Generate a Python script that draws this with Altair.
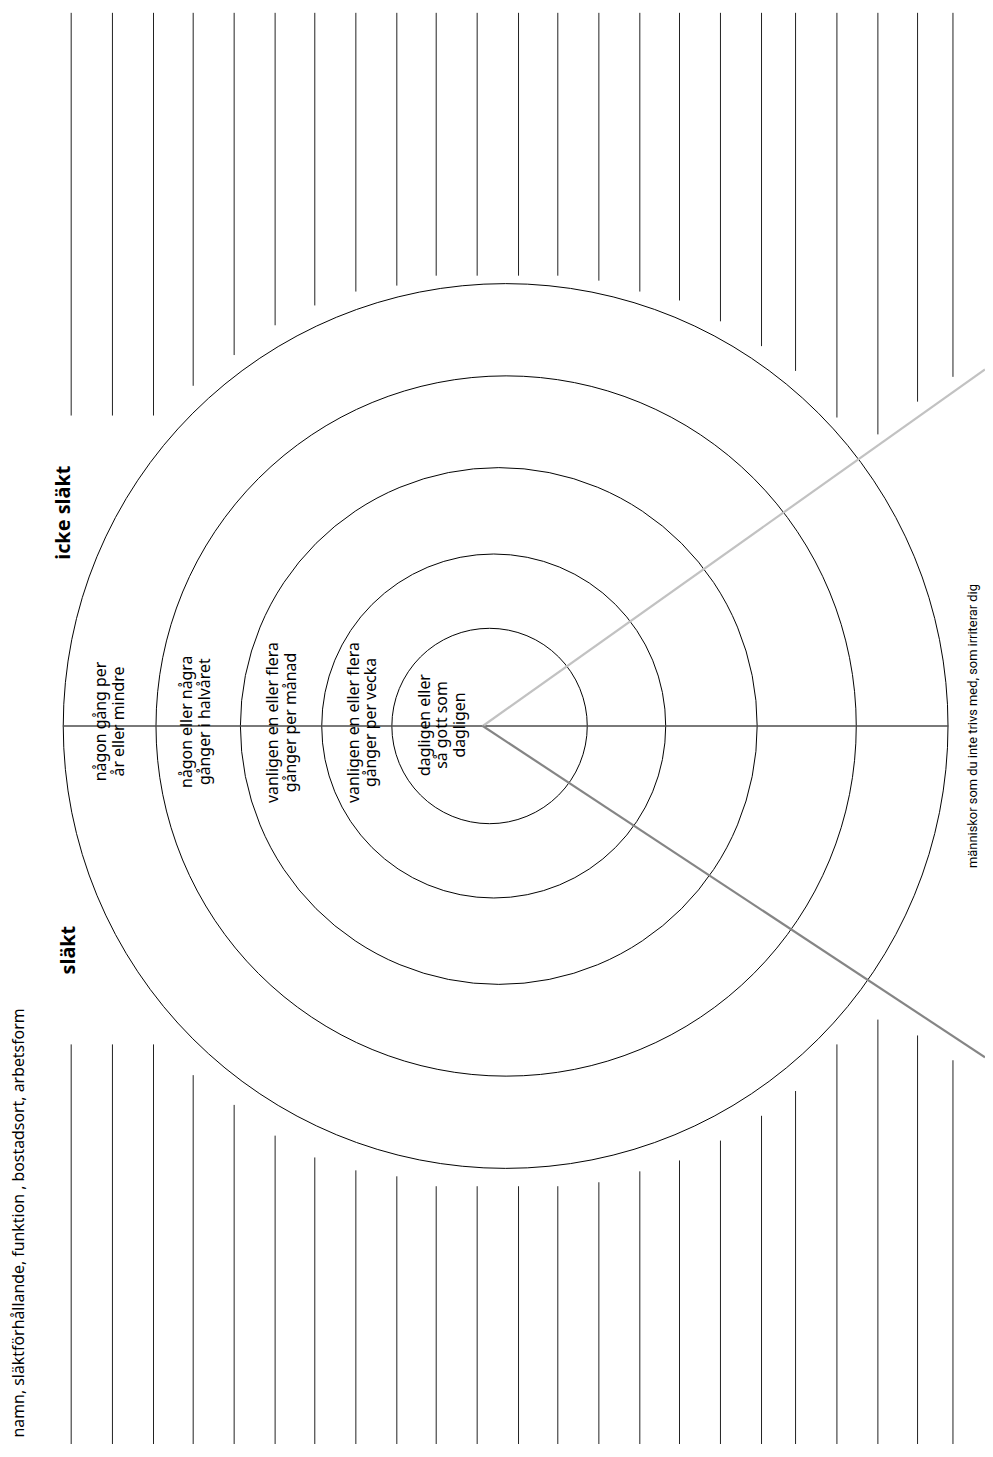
import altair as alt
import pandas as pd

# ---------------- data (page pixel coordinates) ----------
# vertical writing lines (x positions), where the upper line stops and the lower line starts
line_x = [71.7, 113.3, 154.7, 194.7, 236.0, 277.3, 317.3, 358.7, 400.0, 439.7, 481.0,
          522.7, 562.3, 603.7, 645.0, 685.0, 726.3, 767.7, 802.0, 843.7, 885.0, 925.0, 960.7]
top_end = [413, 413, 413, 383, 352, 322, 302, 288, 282, 272, 272,
           272, 272, 277, 288, 297, 318, 343, 368, 415, 432, 399, 374]
bottom_start = [1047, 1047, 1047, 1078, 1108, 1139, 1161, 1174, 1180, 1190, 1190,
                1190, 1190, 1186, 1175, 1164, 1144, 1119, 1094, 1047, 1022, 1038, 1063]
line_top = 7
line_bottom = 1455

# rings (centre x, radius); all share the same centre y
ring_cx = [493.5, 497.7, 502.8, 510.2, 509.7]
ring_r = [98.5, 173.4, 260.5, 353.0, 446.0]
ring_cy = 726

# straight strokes: axis line and the two rays
seg_x = [63.3, 486.7, 486.7]
seg_y = [726, 726, 726]
seg_x2 = [956.0, 993.0, 993.0]
seg_y2 = [726, 366.5, 1060.0]
seg_color = ["#4d4d4d", "#c2c2c2", "#858585"]
seg_width = [1.4, 2.2, 2.2]

# ring labels, one entry per text line
ring_line = ["någon gång per", "år eller mindre",
             "någon eller några", "gånger i halvåret",
             "vanligen en eller flera", "gånger per månad",
             "vanligen en eller flera", "gånger per vecka",
             "dagligen eller", "så gott som", "dagligen"]
ring_line_x = [101.7, 120.0,
               188.3, 206.7,
               275.0, 293.3,
               356.7, 374.0,
               428.3, 446.0, 463.5]
ring_line_y = [721.5, 721.5,
               721.7, 721.7,
               722.5, 722.5,
               722.5, 722.5,
               725.0, 725.0, 725.0]

# headings
head_label = ["icke släkt", "släkt"]
head_x = [65, 69.5]
head_y = [511, 952]

# side notes
note_label = ["namn, släktförhållande, funktion , bostadsort, arbetsform",
              "människor som du inte trivs med, som irriterar dig"]
note_x = [19, 981]
note_y = [1227, 726]
note_size = [16, 13]
note_font = ["Noto Sans", "Roboto"]

# ---------------- chart ----------------
W, H = 985, 1436
xs = alt.Scale(domain=[8, 8 + W], nice=False, zero=False)
ys = alt.Scale(domain=[8, 8 + H], nice=False, zero=False, reverse=True)

lines_df = pd.DataFrame({"x": line_x, "top_end": top_end, "bottom_start": bottom_start,
                         "top": [line_top] * len(line_x), "bottom": [line_bottom] * len(line_x)})

upper = alt.Chart(lines_df).mark_rule(color="#1f1f1f", strokeWidth=1).encode(
    x=alt.X("x:Q", scale=xs, axis=None),
    y=alt.Y("top:Q", scale=ys, axis=None),
    y2="top_end:Q",
)
lower = alt.Chart(lines_df).mark_rule(color="#1f1f1f", strokeWidth=1).encode(
    x=alt.X("x:Q", scale=xs, axis=None),
    y=alt.Y("bottom_start:Q", scale=ys, axis=None),
    y2="bottom:Q",
)

ring_df = pd.DataFrame({"cx": ring_cx, "r": ring_r, "cy": [ring_cy] * len(ring_r)})
ring_df["s"] = (2 * ring_df["r"]) ** 2
rings = alt.Chart(ring_df).mark_point(shape="circle", filled=False, stroke="black",
                                      strokeWidth=1, opacity=1).encode(
    x=alt.X("cx:Q", scale=xs, axis=None),
    y=alt.Y("cy:Q", scale=ys, axis=None),
    size=alt.Size("s:Q", scale=None, legend=None),
)

seg_df = pd.DataFrame({"x": seg_x, "y": seg_y, "x2": seg_x2, "y2": seg_y2,
                       "c": seg_color, "w": seg_width})
segs = alt.Chart(seg_df).mark_rule().encode(
    x=alt.X("x:Q", scale=xs, axis=None),
    y=alt.Y("y:Q", scale=ys, axis=None),
    x2="x2:Q",
    y2="y2:Q",
    color=alt.Color("c:N", scale=None, legend=None),
    strokeWidth=alt.StrokeWidth("w:Q", scale=None, legend=None),
)

rl_df = pd.DataFrame({"t": ring_line, "x": ring_line_x, "y": ring_line_y})
ring_text = alt.Chart(rl_df).mark_text(angle=270, align="center", baseline="middle",
                                       fontSize=16, font="Noto Sans", color="black").encode(
    x=alt.X("x:Q", scale=xs, axis=None),
    y=alt.Y("y:Q", scale=ys, axis=None),
    text="t:N",
)

hd_df = pd.DataFrame({"t": head_label, "x": head_x, "y": head_y})
head_text = alt.Chart(hd_df).mark_text(angle=270, align="center", baseline="middle",
                                       fontSize=20, fontWeight="bold",
                                       font="Noto Sans", color="black").encode(
    x=alt.X("x:Q", scale=xs, axis=None),
    y=alt.Y("y:Q", scale=ys, axis=None),
    text="t:N",
)

note_layers = []
for i in range(len(note_label)):
    nt_df = pd.DataFrame({"t": [note_label[i]], "x": [note_x[i]], "y": [note_y[i]]})
    note_layers.append(
        alt.Chart(nt_df).mark_text(angle=270, align="center", baseline="middle",
                                   fontSize=note_size[i], font=note_font[i],
                                   color="black").encode(
            x=alt.X("x:Q", scale=xs, axis=None),
            y=alt.Y("y:Q", scale=ys, axis=None),
            text="t:N",
        )
    )

chart = alt.layer(upper, lower, rings, segs, ring_text, head_text, *note_layers).properties(
    width=W, height=H, padding=0, autosize=alt.AutoSizeParams(type="none"),
    background="white",
).configure_view(stroke=None)

chart.save("out.html", embed_options={"renderer": "svg", "actions": False})
